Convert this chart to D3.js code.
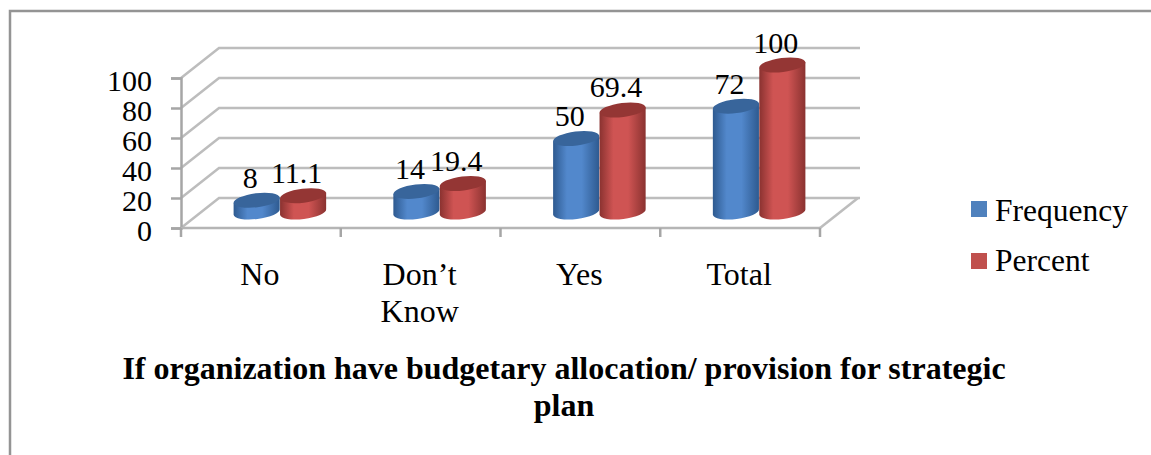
<!DOCTYPE html>
<html>
<head>
<meta charset="utf-8">
<script src="https://cdn.jsdelivr.net/npm/d3@7"></script>
<style>
html,body{margin:0;padding:0;background:#fff;overflow:hidden}
text{font-family:"Liberation Serif","Times New Roman",serif;fill:#000}
</style>
</head>
<body>
<script>
const categories = ["No", "Don\u2019t Know", "Yes", "Total"];
const seriesNames = ["Frequency", "Percent"];
const frequency = [8, 14, 50, 72];
const percent = [11.1, 19.4, 69.4, 100];
const yTicks = [0, 20, 40, 60, 80, 100];
const titleLines = ["If organization have budgetary allocation/ provision for strategic", "plan"];

const W = 1151, H = 455;
const depth = {x: 38, y: -30};       // floor depth of the 3-D box
const palette = {
  Frequency: {swatch: "#4f81bd", dark: "#2e5a90", mid: "#5288cc", top: "#38659b"},
  Percent:   {swatch: "#c0504d", dark: "#8a3230", mid: "#cf5453", top: "#943634"}
};

const svg = d3.select("body").append("svg").attr("width", W).attr("height", H);

// cylinder shading, dark at both edges
const defs = svg.append("defs");
seriesNames.forEach(name => {
  const c = palette[name];
  const g = defs.append("linearGradient").attr("id", "cyl-" + name);
  [[0, c.dark], [0.3, c.mid], [0.62, c.mid], [1, c.dark]].forEach(([o, col]) =>
    g.append("stop").attr("offset", o).attr("stop-color", col));
});

// outer frame, open at the bottom
svg.append("path").attr("d", "M10,455V11H1151").attr("fill", "none")
  .attr("stroke", "#949494").attr("stroke-width", 2.5);

const x = d3.scaleBand().domain(categories).range([181, 820]);
const y = d3.scaleLinear().domain([0, 100]).range([228, 78]);
// cylinders stand mid-way into the box, so they have their own vertical scale
const barY = d3.scaleLinear().domain([0, 100]).range([212, 65]);
const inner = d3.scaleBand().domain(seriesNames).range([0, x.bandwidth()]).paddingOuter(0.72).paddingInner(0);

// side wall and back wall gridlines
const grid = svg.append("g").attr("fill", "none").attr("stroke", "#bdbdbd").attr("stroke-width", 2.5);
yTicks.forEach(t => {
  grid.append("path").attr("d", d3.line()([
    [x.range()[0], y(t)],
    [x.range()[0] + depth.x, y(t) + depth.y],
    [x.range()[1] + depth.x + 2, y(t) + depth.y]
  ]));
});
// right edge of the floor
grid.append("path").attr("d", d3.line()([
  [x.range()[1], y(0)],
  [x.range()[1] + depth.x, y(0) + depth.y]
]));

// value axis
const yAxis = d3.axisLeft(y).tickValues(yTicks).tickSize(10).tickPadding(19);
const yG = svg.append("g").attr("transform", `translate(${x.range()[0]},0)`).call(yAxis);
yG.selectAll("path,line").attr("stroke", "#a6a6a6").attr("stroke-width", 2.5);
yG.selectAll("text").attr("font-size", 30).attr("dy", "0.4em").style("font-family", '"Liberation Serif",serif');

// category axis: ticks sit between categories, labels are drawn separately to wrap
const xEdges = categories.map(c => x(c)).concat(x.range()[1]);
const xG = svg.append("g");
xG.append("line").attr("x1", x.range()[0]).attr("x2", x.range()[1]).attr("y1", y(0)).attr("y2", y(0))
  .attr("stroke", "#b5b5b5").attr("stroke-width", 2.5);
xG.selectAll(".t").data(xEdges).join("line").attr("class", "t")
  .attr("x1", d => d).attr("x2", d => d).attr("y1", y(0)).attr("y2", y(0) + 9)
  .attr("stroke", "#a6a6a6").attr("stroke-width", 2.5);

const catLabel = svg.append("g").attr("font-size", 32).attr("text-anchor", "middle");
categories.forEach(c => {
  c.split(" ").forEach((w, i) => catLabel.append("text")
    .attr("x", x(c) + x.bandwidth() / 2 - 1)
    .attr("y", 285 + i * 37).text(w));
});

// cylinders, one group per series
const rx = inner.bandwidth() / 2, ry = 7, tilt = -7;
const rad = tilt * Math.PI / 180;
const cylinders = seriesNames.map(name => ({name, values: name === "Frequency" ? frequency : percent}));
const bars = svg.append("g");
cylinders.forEach(s => {
  const c = palette[s.name];
  s.values.forEach((v, i) => {
    const cx = x(categories[i]) + inner(s.name) + rx + depth.x / 2;
    const baseY = barY(0);
    const topY = barY(v);
    const g = bars.append("g");
    const ex = rx * Math.cos(rad), ey = -rx * Math.sin(rad);
    g.append("path")
      .attr("d", `M${cx - ex},${topY + ey}L${cx - ex},${baseY + ey}` +
                 `A${rx},${ry} ${tilt} 0 0 ${cx + ex},${baseY - ey}` +
                 `L${cx + ex},${topY - ey}Z`)
      .attr("fill", `url(#cyl-${s.name})`);
    g.append("ellipse")
      .attr("cx", cx).attr("cy", topY).attr("rx", rx).attr("ry", ry)
      .attr("transform", `rotate(${tilt} ${cx} ${topY})`)
      .attr("fill", c.top);
  });
});

// value labels
const labels = svg.append("g").attr("font-size", 30).attr("text-anchor", "middle");
cylinders.forEach(s => {
  s.values.forEach((v, i) => {
    const cx = x(categories[i]) + inner(s.name) + rx + depth.x / 2;
    labels.append("text").attr("x", cx - 6.5).attr("y", barY(v) - 12.5).text(v);
  });
});

// legend
const legend = svg.append("g");
seriesNames.forEach((name, i) => {
  legend.append("rect").attr("x", 971).attr("y", 201 + i * 52).attr("width", 16).attr("height", 16)
    .attr("fill", palette[name].swatch);
  legend.append("text").attr("x", 995).attr("y", 221 + i * 50).attr("font-size", 31.5).text(name);
});

// chart title
const title = svg.append("g").attr("font-size", 32).attr("text-anchor", "middle");
titleLines.forEach((t, i) => title.append("text")
  .attr("x", 564).attr("y", 379 + i * 37).text(t).style("font-weight", "bold"));
</script>
</body>
</html>
